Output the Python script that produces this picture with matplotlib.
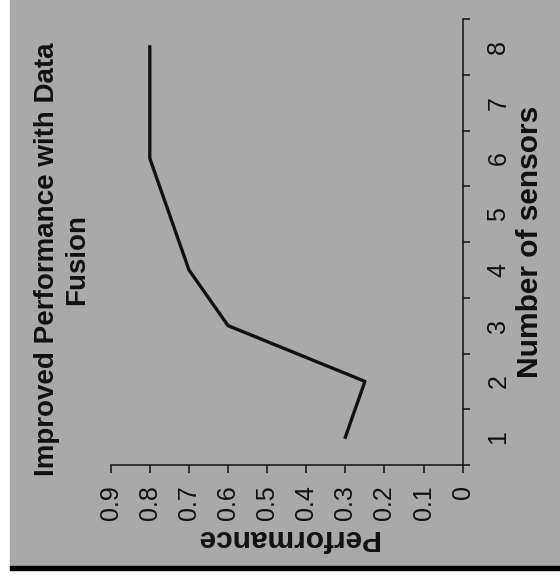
import matplotlib
matplotlib.use("Agg")
import matplotlib.pyplot as plt
from matplotlib.patches import Rectangle
from matplotlib.ticker import FixedLocator, FixedFormatter

plt.rcParams['font.family'] = ['Liberation Sans', 'DejaVu Sans']

sensors = [1, 2, 3, 4, 5, 6, 7, 8]
performance = [0.30, 0.25, 0.60, 0.70, 0.75, 0.80, 0.80, 0.80]
perf_ticks = [0, 0.1, 0.2, 0.3, 0.4, 0.5, 0.6, 0.7, 0.8, 0.9]
perf_labels = ['0', '0.1', '0.2', '0.3', '0.4', '0.5', '0.6', '0.7', '0.8', '0.9']
sensor_labels = ['1', '2', '3', '4', '5', '6', '7', '8']

W, H = 560, 584
bg = '#a9a9a9'
ink = '#111111'

fig = plt.figure(figsize=(W / 100, H / 100), dpi=100)
fig.patch.set_facecolor('white')

# grey scanned page + dark edge at the bottom (kept under the axes)
fig.patches.append(Rectangle((10 / W, 18 / H), 550 / W, 566 / H,
                             transform=fig.transFigure, color=bg, zorder=-2))
fig.patches.append(Rectangle((10 / W, 14 / H), 550 / W, 4 / H,
                             transform=fig.transFigure, color='black', zorder=-2))

# the chart is turned 90 degrees: performance runs right->left, sensors bottom->top
ax = fig.add_axes([110.7 / W, (H - 465) / H, 352 / W, 446 / H])
ax.patch.set_visible(False)

ax.plot(performance, sensors, color=ink, lw=2.4)

ax.set_xlim(0.9, 0)
ax.set_ylim(0.5, 8.5)

ax.spines['top'].set_visible(False)
ax.spines['left'].set_visible(False)
for s in ['bottom', 'right']:
    ax.spines[s].set_color(ink)
    ax.spines[s].set_linewidth(1.1)

# value axis (bottom)
ax.xaxis.set_major_locator(FixedLocator(perf_ticks))
ax.xaxis.set_major_formatter(FixedFormatter(perf_labels))
ax.tick_params(axis='x', direction='out', length=5.8, width=1.1, color=ink,
               pad=8.5, labelsize=18, labelcolor=ink, labelrotation=90)

# category axis (right), ticks between categories, labels centred
ax.yaxis.tick_right()
ax.yaxis.set_label_position('right')
ax.yaxis.set_major_locator(FixedLocator([i + 0.5 for i in range(0, 9)]))
ax.yaxis.set_major_formatter(FixedFormatter([''] * 9))
ax.yaxis.set_minor_locator(FixedLocator(sensors))
ax.yaxis.set_minor_formatter(FixedFormatter(sensor_labels))
ax.tick_params(axis='y', which='major', direction='out', length=5, width=1.1,
               color=ink, left=False, right=True)
ax.tick_params(axis='y', which='minor', length=0, pad=17, labelsize=18,
               labelcolor=ink, left=False, right=True, labelright=True, labelleft=False)
for t in ax.get_yticklabels(minor=True):
    t.set_rotation(90)
    t.set_va('center')
    t.set_ha('left')

ax.set_xlabel('Performance', rotation=180, fontsize=21.5, fontweight='bold',
              color=ink, labelpad=3)
ax.set_ylabel('Number of sensors', rotation=90, fontsize=21.5, fontweight='bold',
              color=ink, labelpad=4)

fig.text(62 / W, 1 - 259 / H, 'Improved Performance with Data\nFusion',
         rotation=90, ha='center', va='center', multialignment='center',
         fontsize=20, fontweight='bold', color=ink)

fig.savefig('out.png', dpi=100, facecolor=fig.get_facecolor())
